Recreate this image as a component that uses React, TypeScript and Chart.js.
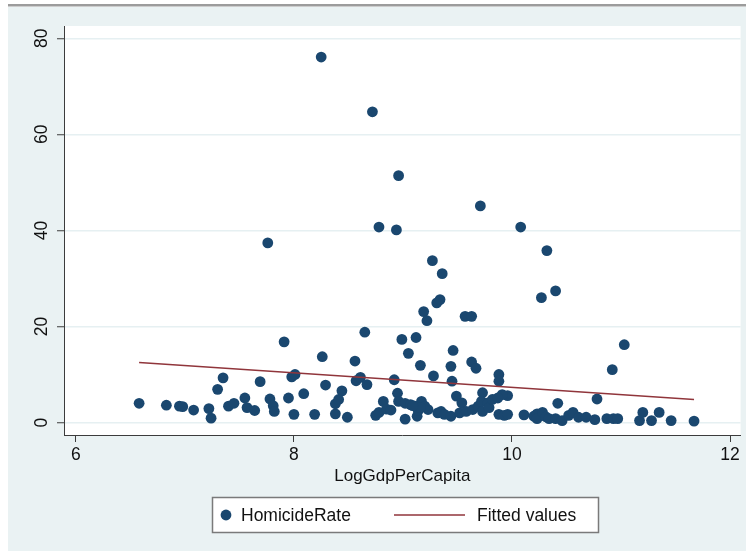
import React, { useEffect, useRef } from "react";
import { Chart, registerables } from "chart.js";

Chart.register(...registerables);

// ---- Data ----
const seriesLabels = ["HomicideRate", "Fitted values"];
const xTitle = "LogGdpPerCapita";
const xTicks = [6, 8, 10, 12];
const yTicks = [0, 20, 40, 60, 80];

const logGdp = [
  8.25, 8.72, 8.96, 8.78, 8.94, 7.76, 9.71, 10.08, 10.32, 10.27,
  10.40, 11.03, 10.92, 9.27, 9.36, 9.31, 9.34, 9.19, 9.22, 9.57,
  9.63, 8.65, 8.99, 9.12, 7.91, 9.46, 8.26, 8.56, 9.05, 9.16,
  9.44, 9.63, 9.67, 9.28, 9.88, 9.88, 9.45, 8.92, 8.57, 8.61,
  8.67, 8.29, 7.98, 8.01, 7.69, 7.35, 7.30, 8.09, 8.44, 8.95,
  9.96, 9.49, 9.73, 9.91,
  6.58, 6.83, 6.95, 6.98, 7.08, 7.22, 7.24, 7.40, 7.45, 7.55,
  7.57, 7.64, 7.78, 7.81, 7.82, 7.95, 8.00, 8.19, 8.38, 8.38,
  8.41, 8.49, 8.75, 8.78, 8.82, 8.85, 8.89, 8.96, 9.02, 9.02,
  9.07, 9.11, 9.13, 9.14, 9.17, 9.23, 9.32, 9.35, 9.38, 9.44,
  9.52, 9.54, 9.58, 9.64, 9.69, 9.72, 9.73, 9.78, 9.79, 9.82,
  9.87, 9.88, 9.93, 9.96, 10.11, 10.20, 10.23, 10.23, 10.28, 10.31,
  10.34, 10.40, 10.42, 10.46, 10.52, 10.56, 10.61, 10.68, 10.76, 10.78,
  10.87, 10.93, 10.97, 11.17, 11.20, 11.28, 11.35, 11.46, 11.67,
  9.20, 9.16, 9.09,
];
const homicideRate = [
  76.1, 64.7, 51.4, 40.7, 40.1, 37.4, 45.1, 40.7, 35.8, 26.0,
  27.4, 16.2, 11.0, 33.7, 31.0, 24.9, 25.6, 23.1, 21.2, 22.1,
  22.1, 18.8, 17.3, 17.7, 16.8, 15.0, 13.7, 12.8, 14.4, 11.9,
  11.7, 12.6, 11.3, 9.7, 10.0, 8.6, 8.6, 8.9, 8.7, 9.4,
  7.9, 7.8, 9.5, 10.0, 8.5, 9.3, 6.9, 6.0, 6.6, 6.1,
  5.6, 5.5, 6.2, 5.8,
  4.0, 3.6, 3.4, 3.3, 2.6, 2.9, 0.9, 3.4, 4.0, 5.1,
  3.1, 2.5, 4.9, 3.5, 2.3, 5.1, 1.7, 1.7, 1.8, 3.9,
  4.8, 1.1, 1.5, 2.1, 4.4, 2.8, 2.6, 4.4, 4.0, 0.7,
  3.7, 3.4, 1.3, 2.5, 4.4, 2.7, 2.0, 2.3, 1.7, 1.3,
  2.0, 4.1, 2.3, 2.7, 3.4, 4.4, 2.3, 4.1, 3.1, 4.8,
  5.1, 1.7, 1.5, 1.7, 1.6, 1.3, 1.8, 0.8, 2.1, 1.2,
  0.8, 0.8, 4.0, 0.4, 1.5, 2.1, 1.1, 1.1, 0.6, 4.9,
  0.8, 0.8, 0.8, 0.4, 2.1, 0.4, 2.1, 0.4, 0.3,
  3.4, 3.1, 3.5,
];
const fitGdp = [6.58, 11.67];
const fitValues = [12.5, 4.8];

// ---- Style ----
const FONT = "'Liberation Sans', Arial, Helvetica, sans-serif";
const NAVY = "#1a476f";
const MAROON = "#90353b";
const PANEL = "#eaf2f3";
const AXIS = "#3c3c3c";
const TEXT = "#111111";

const backgroundPlugin = {
  id: "stataBackground",
  beforeDraw(chart: any) {
    const { ctx, width, height, chartArea } = chart;
    ctx.save();
    ctx.fillStyle = "#ffffff";
    ctx.fillRect(0, 0, width, height);
    ctx.fillStyle = "#9c9c9c";
    ctx.fillRect(8, 4, width - 8, 2.5);
    ctx.fillStyle = PANEL;
    ctx.fillRect(8, 7, width - 8, height - 8);
    ctx.fillStyle = "#ffffff";
    ctx.fillRect(
      chartArea.left,
      chartArea.top,
      chartArea.right - chartArea.left,
      chartArea.bottom - chartArea.top
    );
    ctx.restore();
  },
};

const legendPlugin = {
  id: "stataLegend",
  afterDraw(chart: any) {
    const { ctx } = chart;
    const ds = chart.data.datasets;
    const boxX = 212, boxY = 497, boxW = 387, boxH = 36;
    const cy = boxY + boxH / 2;
    ctx.save();
    ctx.fillStyle = "#ffffff";
    ctx.fillRect(boxX, boxY, boxW, boxH);
    ctx.strokeStyle = "#7a7a7a";
    ctx.lineWidth = 1.5;
    ctx.strokeRect(boxX + 0.5, boxY + 0.5, boxW - 1, boxH - 1);

    ctx.fillStyle = ds[0].backgroundColor;
    ctx.beginPath();
    ctx.arc(226, cy, 5.4, 0, Math.PI * 2);
    ctx.fill();

    ctx.font = `17.5px ${FONT}`;
    ctx.fillStyle = TEXT;
    ctx.textBaseline = "middle";
    ctx.textAlign = "left";
    ctx.fillText(ds[0].label, 241, cy + 1);

    ctx.strokeStyle = ds[1].borderColor;
    ctx.lineWidth = 1.5;
    ctx.beginPath();
    ctx.moveTo(394, cy);
    ctx.lineTo(465, cy);
    ctx.stroke();

    ctx.fillStyle = TEXT;
    ctx.fillText(ds[1].label, 477, cy + 1);
    ctx.restore();
  },
};

export default function App() {
  const ref = useRef<HTMLCanvasElement>(null);

  useEffect(() => {
    if (!ref.current) return;
    const points = logGdp.map((x, i) => ({ x, y: homicideRate[i] }));
    const fit = fitGdp.map((x, i) => ({ x, y: fitValues[i] }));

    const chart = new Chart(ref.current, {
      type: "scatter",
      data: {
        datasets: [
          {
            label: seriesLabels[0],
            data: points,
            backgroundColor: NAVY,
            borderWidth: 0,
            pointRadius: 5.4,
            order: 1,
          } as any,
          {
            label: seriesLabels[1],
            data: fit,
            showLine: true,
            borderColor: MAROON,
            backgroundColor: MAROON,
            borderWidth: 1.5,
            pointRadius: 0,
            order: 0,
          } as any,
        ],
      },
      options: {
        animation: false,
        responsive: false,
        devicePixelRatio: 1,
        events: [],
        layout: { padding: { left: 0, right: 0, top: 26, bottom: 0 } },
        plugins: {
          legend: { display: false },
          tooltip: { enabled: false },
          title: { display: false },
        },
        scales: {
          x: {
            type: "linear",
            min: 5.891,
            max: 12.097,
            afterBuildTicks: (s: any) => {
              s.ticks = xTicks.map((v) => ({ value: v }));
            },
            afterFit: (s: any) => {
              s.height = 117;
            },
            grid: {
              drawOnChartArea: false,
              tickLength: 7,
              tickColor: AXIS,
              tickWidth: 1,
            },
            border: { color: AXIS, width: 1 },
            ticks: {
              color: TEXT,
              font: { family: FONT, size: 17.5 },
              padding: 3,
              maxRotation: 0,
              minRotation: 0,
            },
            title: {
              display: true,
              text: xTitle,
              color: TEXT,
              font: { family: FONT, size: 17 },
              padding: { top: 0, bottom: 65 },
            },
          },
          y: {
            type: "linear",
            min: -2.6,
            max: 82.56,
            afterBuildTicks: (s: any) => {
              s.ticks = yTicks.map((v) => ({ value: v }));
            },
            afterFit: (s: any) => {
              s.width = 64;
            },
            grid: {
              color: "#e6f0f2",
              lineWidth: 1.5,
              tickLength: 7,
              tickColor: AXIS,
              tickWidth: 1,
            },
            border: { color: AXIS, width: 1 },
            ticks: {
              color: TEXT,
              font: { family: FONT, size: 17.5 },
              padding: 5,
              minRotation: 90,
              maxRotation: 90,
              crossAlign: "center",
            },
          },
        },
      } as any,
      plugins: [backgroundPlugin, legendPlugin],
    });
    return () => chart.destroy();
  }, []);

  return (
    <div style={{ position: "absolute", left: 0, top: 0, width: 746, height: 552 }}>
      <canvas
        ref={ref}
        width={746}
        height={552}
        style={{ display: "block", width: 746, height: 552 }}
      />
    </div>
  );
}
